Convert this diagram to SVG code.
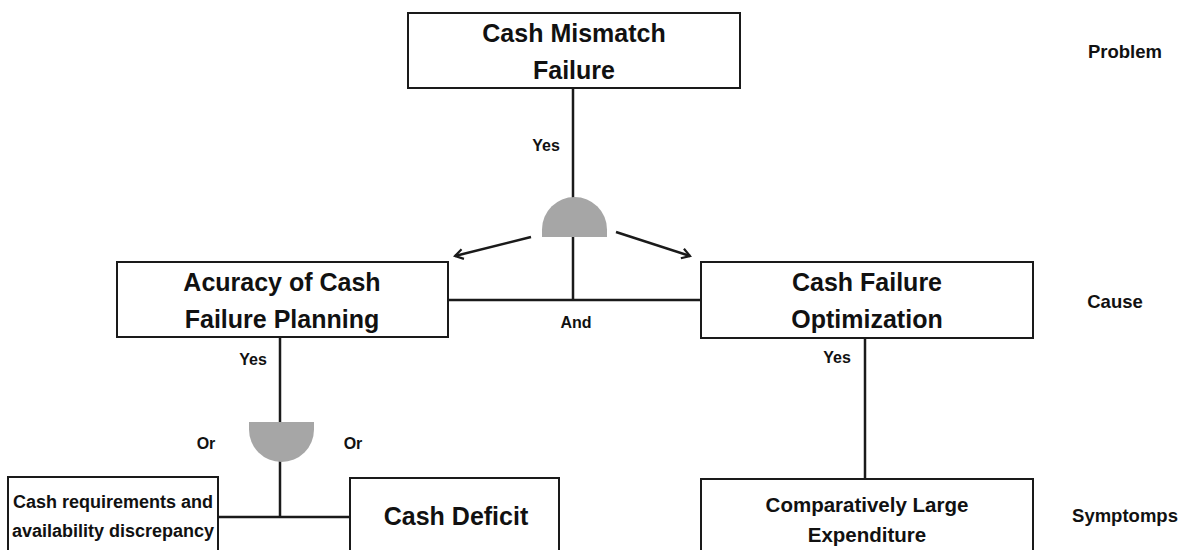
<svg xmlns="http://www.w3.org/2000/svg" width="1186" height="550" viewBox="0 0 1186 550">
<defs>
<style>
.box{fill:#fff;stroke:#1a1a1a;stroke-width:2}
.t{font-family:"Liberation Sans",Arial,Helvetica,sans-serif;font-weight:bold;fill:#111;text-anchor:middle}
.big{font-size:25px}
.mid{font-size:20.5px}
.sm{font-size:18px}
.lvl{font-size:18.5px}
.lbl{font-size:16px}
.ln{stroke:#1a1a1a;stroke-width:2.5;fill:none}
.gate{fill:#a6a6a6;stroke:none}
</style>
<marker id="arr" viewBox="0 0 12 12" refX="10" refY="6" markerWidth="12" markerHeight="12" markerUnits="userSpaceOnUse" orient="auto">
<path d="M2,1 L10,6 L2,11" fill="none" stroke="#1a1a1a" stroke-width="2.2"/>
</marker>
</defs>
<rect width="1186" height="550" fill="#fff"/>
<g id="connectors">
<line class="ln" x1="573" y1="88" x2="573" y2="198"/>
<line class="ln" x1="573" y1="236" x2="573" y2="300"/>
<line class="ln" x1="448" y1="300" x2="701" y2="300"/>
<line class="ln" x1="531" y1="237" x2="455" y2="256" marker-end="url(#arr)"/>
<line class="ln" x1="616" y1="232" x2="690" y2="256" marker-end="url(#arr)"/>
<line class="ln" x1="280" y1="337" x2="280" y2="423"/>
<line class="ln" x1="280" y1="461" x2="280" y2="517"/>
<line class="ln" x1="218" y1="517" x2="350" y2="517"/>
<line class="ln" x1="865" y1="338" x2="865" y2="479"/>
</g>
<g id="gate-and">
<path class="gate" d="M542,237 L542,229.5 A32.5,32.5 0 0 1 607,229.5 L607,237 Z"/>
</g>
<g id="gate-or">
<path class="gate" d="M249,422 L314,422 L314,429.5 A32.5,32.5 0 0 1 249,429.5 Z"/>
</g>
<g id="node-cash-mismatch">
<rect class="box" x="408" y="13" width="332" height="75"/>
<text class="t big" x="574" y="42">Cash Mismatch</text>
<text class="t big" x="574" y="79">Failure</text>
</g>
<g id="node-accuracy">
<rect class="box" x="117" y="262" width="331" height="75"/>
<text class="t big" x="282" y="291">Acuracy of Cash</text>
<text class="t big" x="282" y="328">Failure Planning</text>
</g>
<g id="node-optimization">
<rect class="box" x="701" y="262" width="332" height="76"/>
<text class="t big" x="867" y="291">Cash Failure</text>
<text class="t big" x="867" y="328">Optimization</text>
</g>
<g id="node-discrepancy">
<rect class="box" x="8" y="477" width="210" height="90"/>
<text class="t sm" x="113" y="508">Cash requirements and</text>
<text class="t sm" x="113" y="537">availability discrepancy</text>
</g>
<g id="node-deficit">
<rect class="box" x="350" y="478" width="209" height="90"/>
<text class="t big" x="456" y="525">Cash Deficit</text>
</g>
<g id="node-expenditure">
<rect class="box" x="701" y="479" width="332" height="90"/>
<text class="t mid" x="867" y="512">Comparatively Large</text>
<text class="t mid" x="867" y="542">Expenditure</text>
</g>
<g id="labels">
<text class="t lbl" x="546" y="151">Yes</text>
<text class="t lbl" x="576" y="328">And</text>
<text class="t lbl" x="253" y="365">Yes</text>
<text class="t lbl" x="206" y="449">Or</text>
<text class="t lbl" x="353" y="449">Or</text>
<text class="t lbl" x="837" y="363">Yes</text>
<text class="t lvl" x="1125" y="58">Problem</text>
<text class="t lvl" x="1115" y="308">Cause</text>
<text class="t lvl" x="1125" y="522">Symptomps</text>
</g>
</svg>
